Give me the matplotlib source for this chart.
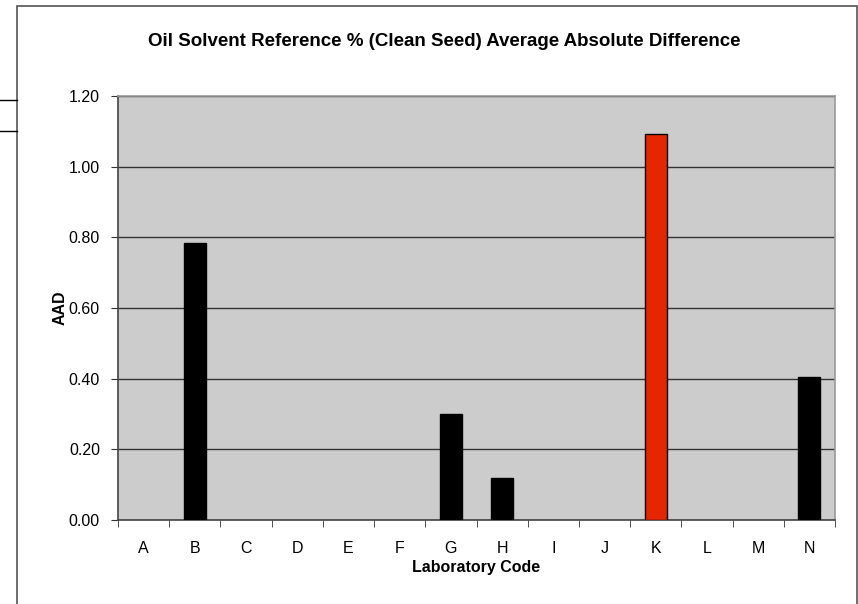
import matplotlib.pyplot as plt
from matplotlib.patches import Rectangle
from matplotlib.lines import Line2D

# laboratory codes and their average absolute difference
labs = ['A', 'B', 'C', 'D', 'E', 'F', 'G', 'H', 'I', 'J', 'K', 'L', 'M', 'N']
aad = [0, 0.784, 0, 0, 0, 0, 0.30, 0.119, 0, 0, 1.093, 0, 0, 0.405]
flagged = ['K']

plt.rcParams['font.family'] = ['Liberation Sans', 'DejaVu Sans']

W, H = 858, 604
fig = plt.figure(figsize=(W / 100, H / 100), dpi=100)

# outer chart frame and the stray lines at the left edge
fig.patches.append(Rectangle((17 / W, -0.05), (857 - 17) / W, 1.05 - 6 / H,
                             transform=fig.transFigure, fill=False,
                             edgecolor='#555555', lw=1.2))
for yy in (100, 131):
    fig.lines.append(Line2D([0, 17 / W], [1 - yy / H, 1 - yy / H],
                            transform=fig.transFigure, color='black', lw=1))

ax = fig.add_axes([118 / W, 1 - 520 / H, (835 - 118) / W, (520 - 96) / H])
ax.set_facecolor('#cccccc')

x = list(range(len(labs)))
colors = ['#e52600' if l in flagged else 'black' for l in labs]
widths = [1 if v > 0 else 0 for v in aad]
ax.bar(x, aad, width=0.43, color=colors, edgecolor='black', linewidth=widths,
       zorder=3)

ax.set_xlim(-0.5, len(labs) - 0.5)
ax.set_ylim(0, 1.2)
ax.set_yticks([0, 0.2, 0.4, 0.6, 0.8, 1.0, 1.2])
ax.set_yticklabels(['%.2f' % v for v in ax.get_yticks()], fontsize=11.5)
ax.yaxis.grid(True, color='#333333', lw=1, zorder=1)
ax.set_axisbelow(True)

ax.set_xticks(x)
ax.set_xticklabels(labs, fontsize=11.5)
ax.tick_params(axis='x', which='major', length=0, pad=15)
ax.set_xticks([i + 0.5 for i in range(-1, len(labs))], minor=True)
ax.tick_params(axis='x', which='minor', length=5, color='#333333', direction='out')
ax.tick_params(axis='y', length=5, color='#333333', direction='out', pad=8)

for side in ('left', 'bottom'):
    ax.spines[side].set_color('#444444')
    ax.spines[side].set_linewidth(1.2)
for side in ('right', 'top'):
    ax.spines[side].set_color('#999999')
    ax.spines[side].set_linewidth(1.2)

ax.set_xlabel('Laboratory Code', fontsize=11.5, fontweight='bold', labelpad=3)
ax.set_ylabel('AAD', fontsize=11.5, fontweight='bold', labelpad=1)
fig.text(444 / W, 1 - 42 / H,
         'Oil Solvent Reference % (Clean Seed) Average Absolute Difference',
         ha='center', va='center', fontsize=13.5, fontweight='bold')

fig.savefig('out.png', dpi=100)
